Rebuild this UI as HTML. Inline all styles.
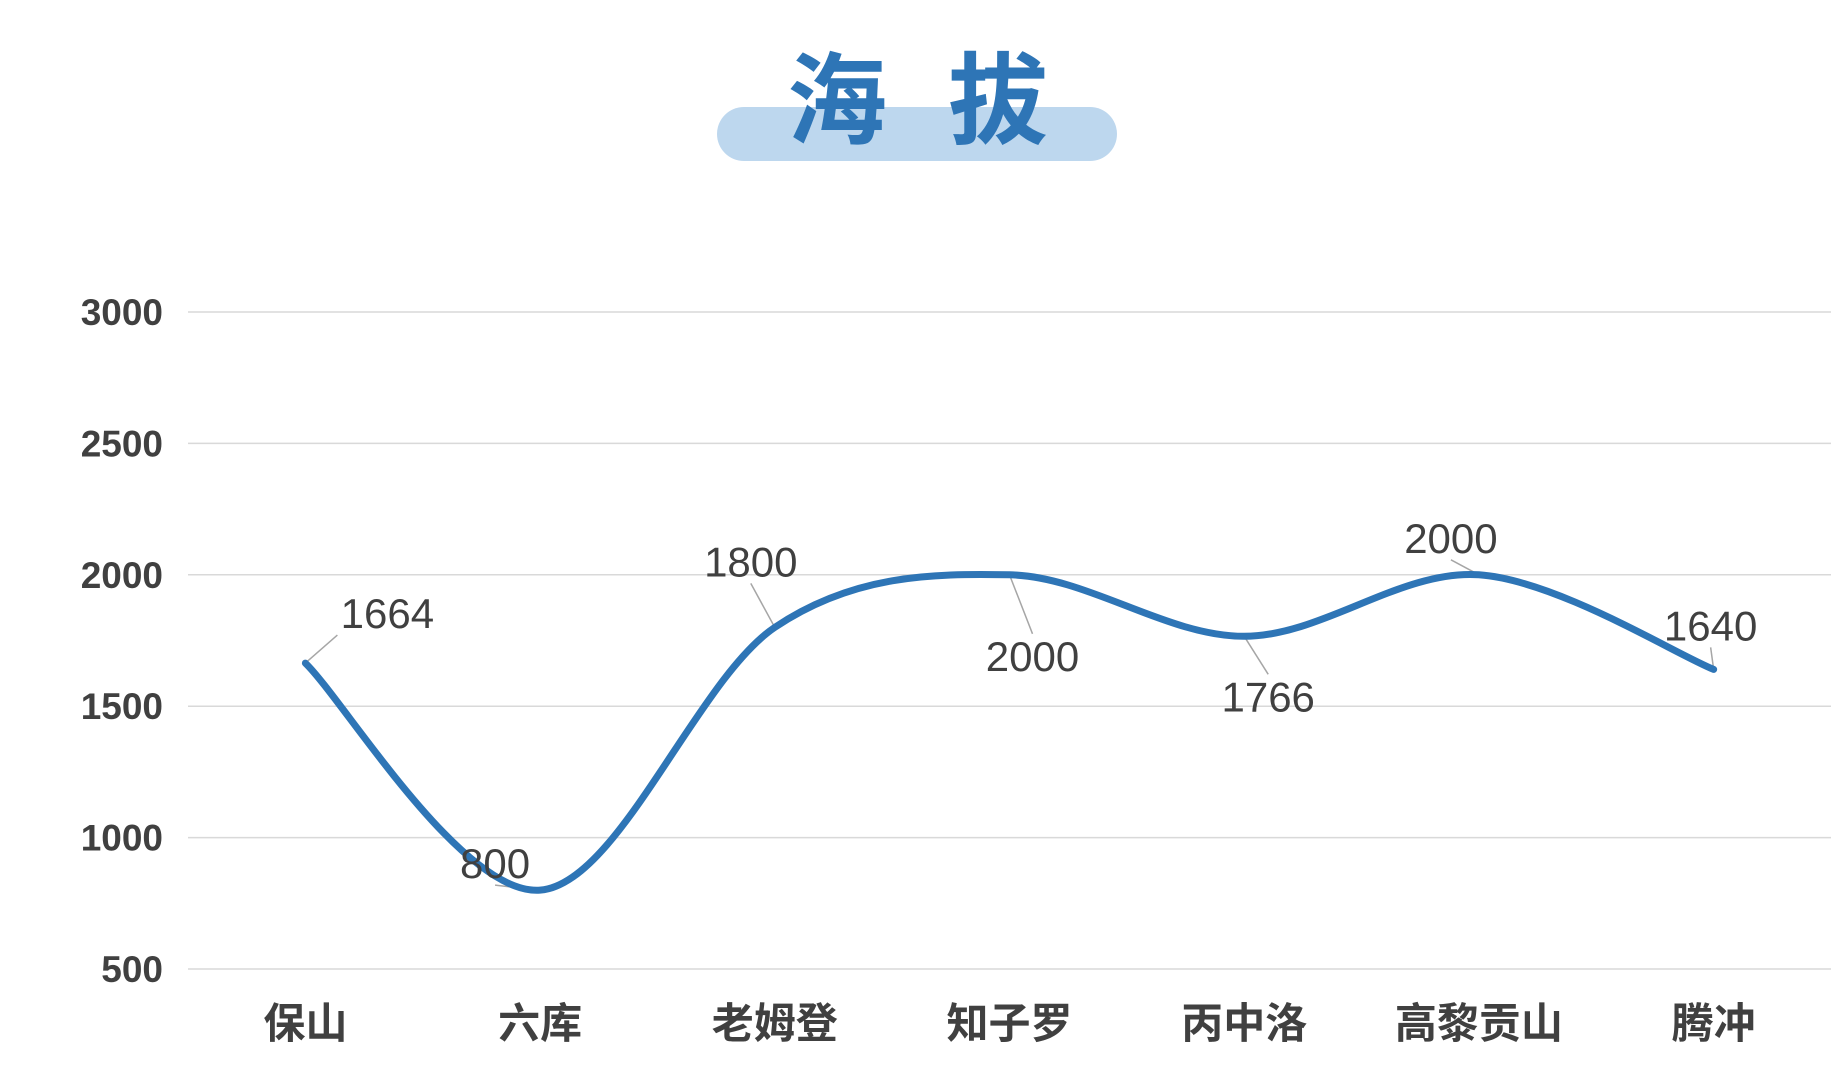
<!DOCTYPE html>
<html><head><meta charset="utf-8">
<style>
body{margin:0;background:#fff;}
svg{display:block;font-family:"Liberation Sans","Noto Sans CJK SC",sans-serif;}
</style></head>
<body>
<svg id="chart" width="1846" height="1088" viewBox="0 0 1846 1088">
  <rect x="717" y="107" width="400" height="54" rx="27" fill="#BDD7EE"/>
  <g font-size="100" font-weight="bold" fill="#2E75B6" text-anchor="middle" style="font-family:'Noto Sans CJK SC',sans-serif">
    <text x="837" y="136">海</text>
    <text x="998" y="136">拔</text>
  </g>
  <g id="grid"></g>
  <g id="yticks"></g>
  <g id="xticks"></g>
  <g id="leaders"></g>
  <path id="line" fill="none" stroke="#2E75B6" stroke-width="7" stroke-linecap="round"/>
  <g id="labels"></g>
</svg>
<script>
const categories = ["保山","六库","老姆登","知子罗","丙中洛","高黎贡山","腾冲"];
const values = [1664,800,1800,2000,1766,2000,1640];
const yTicks = [500,1000,1500,2000,2500,3000];
// label offsets (pixels, styling only)
const labelDx = [82,-45,-24,23,24,-28,-3];
const labelDy = [-50,-27,-66,81,60,-37,-44];

const NS="http://www.w3.org/2000/svg";
const plotLeft=188,plotRight=1831,plotTop=312,plotBottom=969,yMin=500,yMax=3000;
const band=(plotRight-plotLeft)/categories.length;
const xs=i=>plotLeft+band*(i+0.5);
const ys=v=>plotBottom-(v-yMin)/(yMax-yMin)*(plotBottom-plotTop);
function mk(tag,attrs,parent){const e=document.createElementNS(NS,tag);for(const k in attrs)e.setAttribute(k,attrs[k]);document.getElementById(parent).appendChild(e);return e;}

yTicks.forEach(t=>{
  const g=mk('line',{x1:plotLeft,x2:plotRight,y1:ys(t),y2:ys(t),stroke:'#D9D9D9','stroke-width':1.5},'grid');
  
  
  const l=mk('text',{x:163,y:ys(t)+13,'font-size':37,'font-weight':'bold',fill:'#404040','text-anchor':'end'},'yticks');
  l.textContent=t;
  
  
});
categories.forEach((c,i)=>{
  const l=mk('text',{x:xs(i),y:1038,'font-size':42,'font-weight':'bold',fill:'#404040','text-anchor':'middle'},'xticks');
  l.textContent=c;
  
  
});
const pts=values.map((v,i)=>[xs(i),ys(v)]);
let d=`M${pts[0][0]},${pts[0][1]}`;
for(let i=0;i<pts.length-1;i++){
  const p0=pts[Math.max(i-1,0)],p1=pts[i],p2=pts[i+1],p3=pts[Math.min(i+2,pts.length-1)];
  const c1=[p1[0]+(p2[0]-p0[0])/6,p1[1]+(p2[1]-p0[1])/6];
  const c2=[p2[0]-(p3[0]-p1[0])/6,p2[1]-(p3[1]-p1[1])/6];
  d+=` C${c1[0]},${c1[1]} ${c2[0]},${c2[1]} ${p2[0]},${p2[1]}`;
}
document.getElementById('line').setAttribute('d',d);
values.forEach((v,i)=>{
  const cx=pts[i][0]+labelDx[i], cy=pts[i][1]+labelDy[i];
  const ly=cy+(labelDy[i]<0?22:-22);
  const ln=mk('line',{x1:pts[i][0],y1:pts[i][1],x2:cx-(labelDx[i]>40?50:0),y2:ly,stroke:'#A6A6A6','stroke-width':1.5},'leaders');
  
  
  const t=mk('text',{x:cx,y:cy+15,'font-size':42,fill:'#404040','text-anchor':'middle'},'labels');
  t.textContent=v;
  
  
});
</script>
</body></html>
